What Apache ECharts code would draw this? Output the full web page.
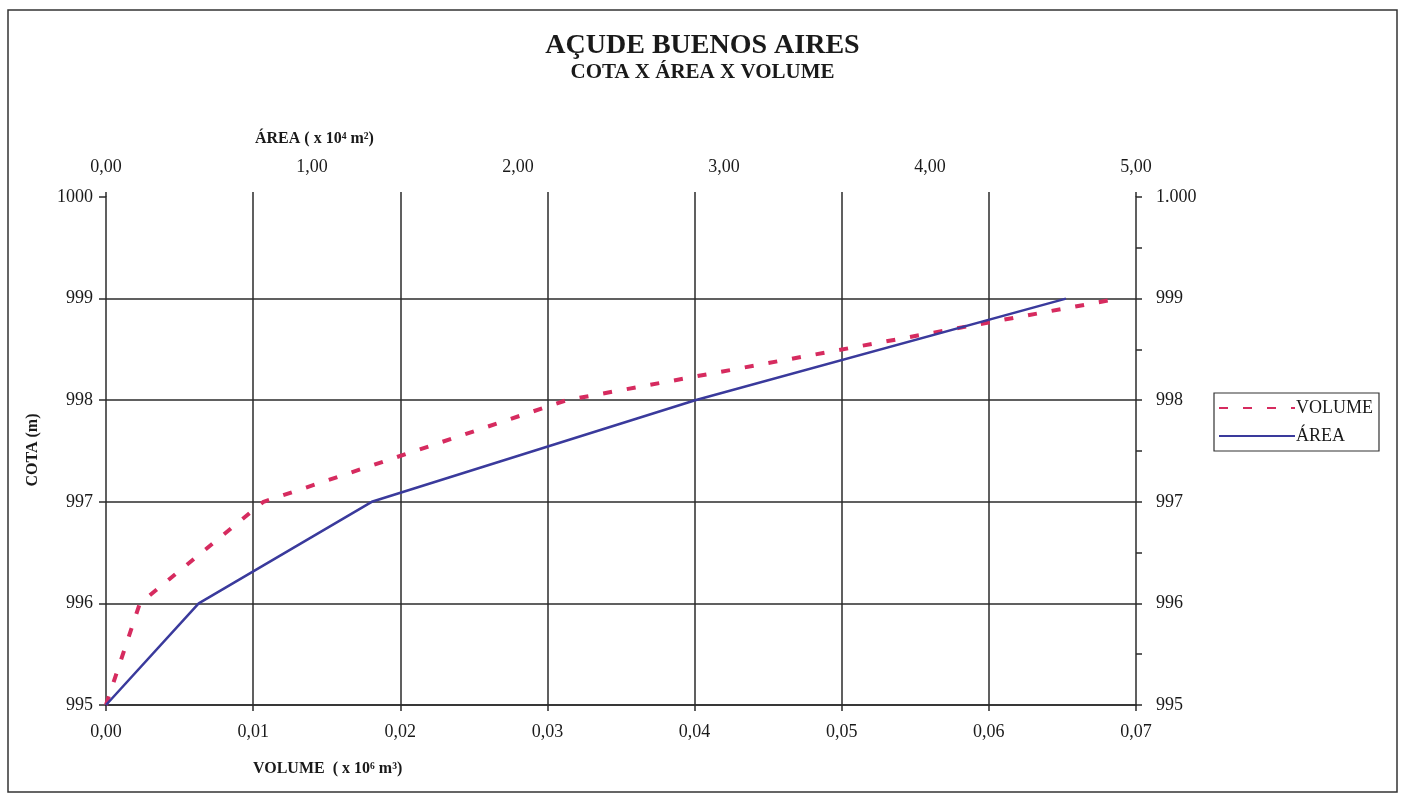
<!DOCTYPE html>
<html>
<head>
<meta charset="utf-8">
<title>Açude Buenos Aires</title>
<script src="https://cdn.jsdelivr.net/npm/echarts@6/dist/echarts.min.js"></script>
<style>
  html, body { margin: 0; padding: 0; background: #fff; }
  #chart { width: 1405px; height: 794px; }
</style>
</head>
<body>
<div id="chart"></div>
<script>
// cota (m) x volume (x10^6 m3) x area (x10^4 m2)
var cota = [995, 996, 997, 998, 999];
var volume = [0, 0.0023, 0.0107, 0.0313, 0.0688];
var area = [0, 0.45, 1.29, 2.86, 4.66];

var volumeTicks = [0, 0.07, 0.01];   // min, max, interval
var areaTicks = [0, 5, 1];
var cotaTicks = [995, 1000, 1];
var cotaHalfStep = 0.5;              // right axis has a tick every half metre

var serif = 'Liberation Serif';
var ink = '#2b2b2b';

function comma(v) {
  return v.toFixed(2).replace('.', ',');
}

var volumeData = cota.map(function (c, i) { return [volume[i], c]; });
var areaData = cota.map(function (c, i) { return [area[i], c]; });

var chart = echarts.init(document.getElementById('chart'));

var option = {
  backgroundColor: '#fff',
  animation: false,
  title: {
    text: 'AÇUDE BUENOS AIRES',
    subtext: 'COTA X ÁREA X VOLUME',
    left: 'center',
    top: 27,
    itemGap: 2,
    textStyle: { fontFamily: serif, fontSize: 28, fontWeight: 'bold', color: '#1a1a1a' },
    subtextStyle: { fontFamily: serif, fontSize: 21, fontWeight: 'bold', color: '#1a1a1a' }
  },
  legend: {
    orient: 'vertical',
    left: 1214,
    top: 393,
    padding: [6, 6, 6, 4],
    itemGap: 10,
    itemWidth: 76,
    itemHeight: 14,
    borderColor: '#333',
    borderWidth: 1.2,
    itemStyle: { opacity: 0 },
    textStyle: { fontFamily: serif, fontSize: 18, color: '#1a1a1a', padding: [0, 0, 0, -4] },
    data: ['VOLUME', 'ÁREA']
  },
  grid: { left: 106, right: 269, top: 197, bottom: 89 },
  xAxis: [
    {
      type: 'value',
      position: 'bottom',
      min: volumeTicks[0], max: volumeTicks[1], interval: volumeTicks[2],
      axisLine: { show: true, onZero: false, lineStyle: { color: ink, width: 1.5 } },
      axisTick: { show: true, length: 6, lineStyle: { color: ink, width: 1.5 } },
      axisLabel: { margin: 18, fontFamily: serif, fontSize: 18, color: '#1a1a1a', formatter: comma },
      splitLine: { show: true, showMinLine: false, showMaxLine: false, lineStyle: { color: ink, width: 1.5 } }
    },
    {
      type: 'value',
      position: 'top',
      min: areaTicks[0], max: areaTicks[1], interval: areaTicks[2],
      axisLine: { show: false, onZero: false },
      axisTick: { show: false },
      axisLabel: { margin: 21, fontFamily: serif, fontSize: 18, color: '#1a1a1a', formatter: comma },
      splitLine: { show: false }
    },
    {
      // short marks where the volume grid lines poke above the plot
      type: 'value',
      position: 'top',
      min: volumeTicks[0], max: volumeTicks[1], interval: volumeTicks[2],
      axisLine: { show: false, onZero: false },
      axisTick: { show: true, length: 5, lineStyle: { color: ink, width: 1.5 } },
      axisLabel: { show: false },
      splitLine: { show: false }
    }
  ],
  yAxis: [
    {
      type: 'value',
      position: 'left',
      min: cotaTicks[0], max: cotaTicks[1], interval: cotaTicks[2],
      axisLine: { show: true, onZero: false, lineStyle: { color: ink, width: 1.5 } },
      axisTick: { show: true, length: 7, lineStyle: { color: ink, width: 1.5 } },
      axisLabel: { margin: 13, fontFamily: serif, fontSize: 18, color: '#1a1a1a', formatter: function (v) { return String(v); } },
      splitLine: { show: true, showMinLine: true, showMaxLine: false, lineStyle: { color: ink, width: 1.5 } }
    },
    {
      type: 'value',
      position: 'right',
      min: cotaTicks[0], max: cotaTicks[1], interval: cotaHalfStep,
      axisLine: { show: true, onZero: false, lineStyle: { color: ink, width: 1.5 } },
      axisTick: { show: true, length: 6, lineStyle: { color: ink, width: 1.5 } },
      axisLabel: {
        margin: 20, fontFamily: serif, fontSize: 18, color: '#1a1a1a',
        formatter: function (v) {
          if (v % 1 !== 0) return '';
          return v === 1000 ? '1.000' : String(v);
        }
      },
      splitLine: { show: false }
    }
  ],
  series: [
    {
      name: 'VOLUME',
      type: 'line',
      xAxisIndex: 0,
      yAxisIndex: 0,
      symbol: 'none',
      data: volumeData,
      lineStyle: { color: '#d62b5f', width: 4, type: [9, 15] },
      itemStyle: { color: '#d62b5f' },
      z: 3
    },
    {
      name: 'ÁREA',
      type: 'line',
      xAxisIndex: 1,
      yAxisIndex: 0,
      symbol: 'none',
      data: areaData,
      lineStyle: { color: '#3a3a9c', width: 2.5 },
      itemStyle: { color: '#3a3a9c' },
      z: 4
    }
  ],
  graphic: [
    {
      type: 'rect',
      shape: { x: 8, y: 10, width: 1389, height: 782 },
      style: { fill: 'none', stroke: '#333', lineWidth: 1.5 },
      silent: true
    },
    {
      type: 'text',
      left: 255, top: 131,
      style: { text: 'ÁREA ( x 10⁴ m²)', fontFamily: serif, fontSize: 16, fontWeight: 'bold', fill: '#1a1a1a' }
    },
    {
      type: 'text',
      left: 253, top: 761,
      style: { text: 'VOLUME  ( x 10⁶ m³)', fontFamily: serif, fontSize: 16, fontWeight: 'bold', fill: '#1a1a1a' }
    },
    {
      type: 'text',
      x: 33, y: 450,
      rotation: Math.PI / 2,
      style: { text: 'COTA (m)', fontFamily: serif, fontSize: 16, fontWeight: 'bold', fill: '#1a1a1a', align: 'center', verticalAlign: 'middle' }
    }
  ]
};

chart.setOption(option);
</script>
</body>
</html>
